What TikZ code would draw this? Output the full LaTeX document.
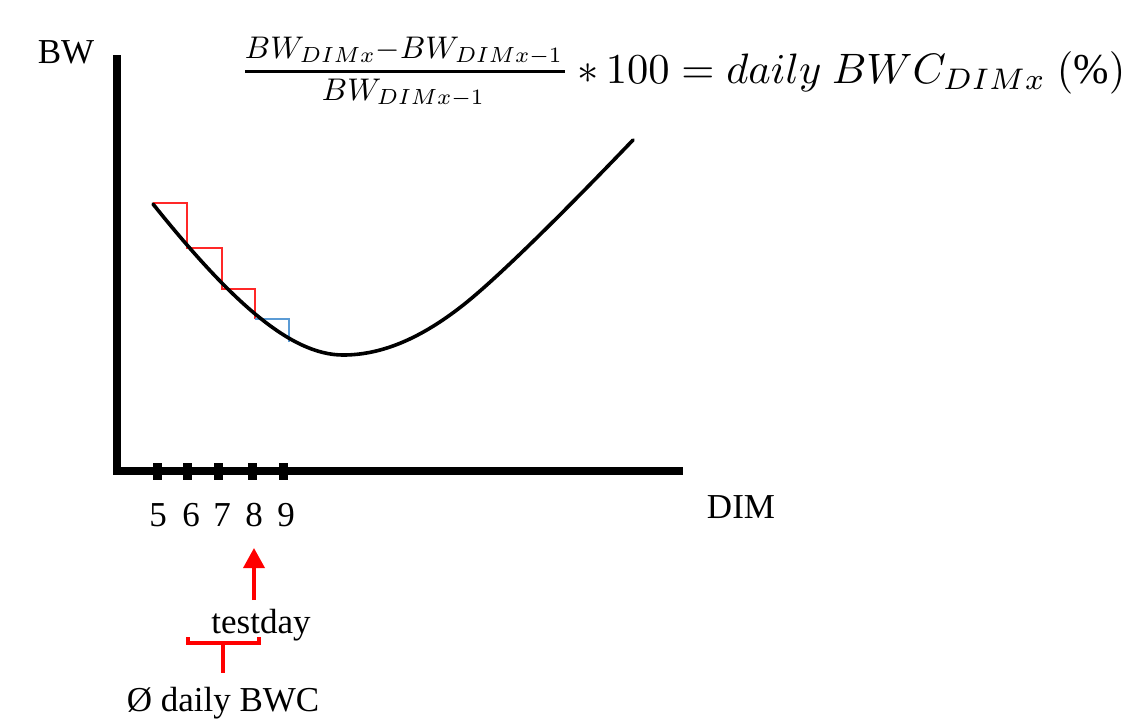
\documentclass[tikz,border=0pt]{standalone}
\usepackage{fontspec}
\setmainfont{Liberation Serif}
\usepackage{graphicx}
\usetikzlibrary{arrows.meta}
\definecolor{stepred}{RGB}{255,40,40}
\definecolor{stepblue}{RGB}{91,155,213}
\definecolor{markred}{RGB}{255,0,0}
\tikzset{
  axisline/.style={line width=4pt, line join=miter},
  tickmark/.style={line width=4.5pt},
  curveline/.style={line width=1.8pt, line cap=round},
  redstep/.style={stepred, line width=1pt},
  bluestep/.style={stepblue, line width=1pt},
  lbl/.style={font=\fontsize{17.5pt}{20pt}\selectfont, inner sep=0pt, anchor=base},
  redarrow/.style={markred, line width=1.8pt, -{Triangle[width=10.5pt,length=10pt]}},
  bracketline/.style={markred, line width=2.4pt},
  fracbar/.style={line width=1.5pt},
  mathpart/.style={inner sep=0pt},
}
\begin{document}
\begin{tikzpicture}[x=0.5pt,y=-0.5pt]
\useasboundingbox (0,0) rectangle (1129,720);
% axes
\coordinate (ytop) at (117,55);
\coordinate (origin) at (117,471);
\coordinate (xend) at (683,471);
\draw[axisline] (ytop) -- (origin) -- (xend);
% ticks
\foreach \x/\n in {157/5,187/6,218/7,252/8,283/9}{
  \draw[tickmark] (\x,463) -- (\x,480);
}
% tick labels
\node[lbl] (l5) at (158,526) {5};
\node[lbl] (l6) at (191,526) {6};
\node[lbl] (l7) at (222,526) {7};
\node[lbl] (l8) at (254,526) {8};
\node[lbl] (l9) at (286,526) {9};
% axis labels
\node[lbl] (bw) at (66,63) {BW};
\node[lbl] (dim) at (741,518) {DIM};
% steps
\draw[redstep] (153,203) -- (187,203) -- (187,248) -- (222,248) -- (222,289) -- (255,289) -- (255,319);
\draw[bluestep] (255,319) -- (289,319) -- (289,342);
% curve
\draw[curveline] (153,204) .. controls (230,300) and (290,355) .. (343,355)
  .. controls (380,355) and (420,340) .. (467,302)
  .. controls (510,267) and (590,185) .. (633,140);
% formula
\node[mathpart, anchor=base] (num) at (404,58)
  {\resizebox{159pt}{!}{$BW_{DIMx}{-}BW_{DIMx-1}$}};
\node[mathpart, anchor=base] (den) at (403.5,100)
  {\resizebox{81.5pt}{!}{$BW_{DIMx-1}$}};
\coordinate (barl) at (245,71.5);
\coordinate (barr) at (565,71.5);
\draw[fracbar] (barl) -- (barr);
\node[mathpart, anchor=base west] (rest) at (577,83)
  {\resizebox{274pt}{!}{$*\,100=daily\ BWC_{DIMx}\ (\%)$}};
% testday marker
\coordinate (arrstart) at (254,600);
\coordinate (arrtip) at (254,548);
\draw[redarrow] (arrstart) -- (arrtip);
\node[lbl] (testday) at (261,633) {testday};
% bracket
\coordinate (bl) at (188,637);
\coordinate (br) at (259,637);
\coordinate (bmid) at (223,643);
\coordinate (bstem) at (223,673);
\draw[bracketline] (bl) |- (bmid) -| (br);
\draw[bracketline] (bmid) -- (bstem);
\node[lbl] (avg) at (223,711) {Ø daily BWC};
\end{tikzpicture}
\end{document}
